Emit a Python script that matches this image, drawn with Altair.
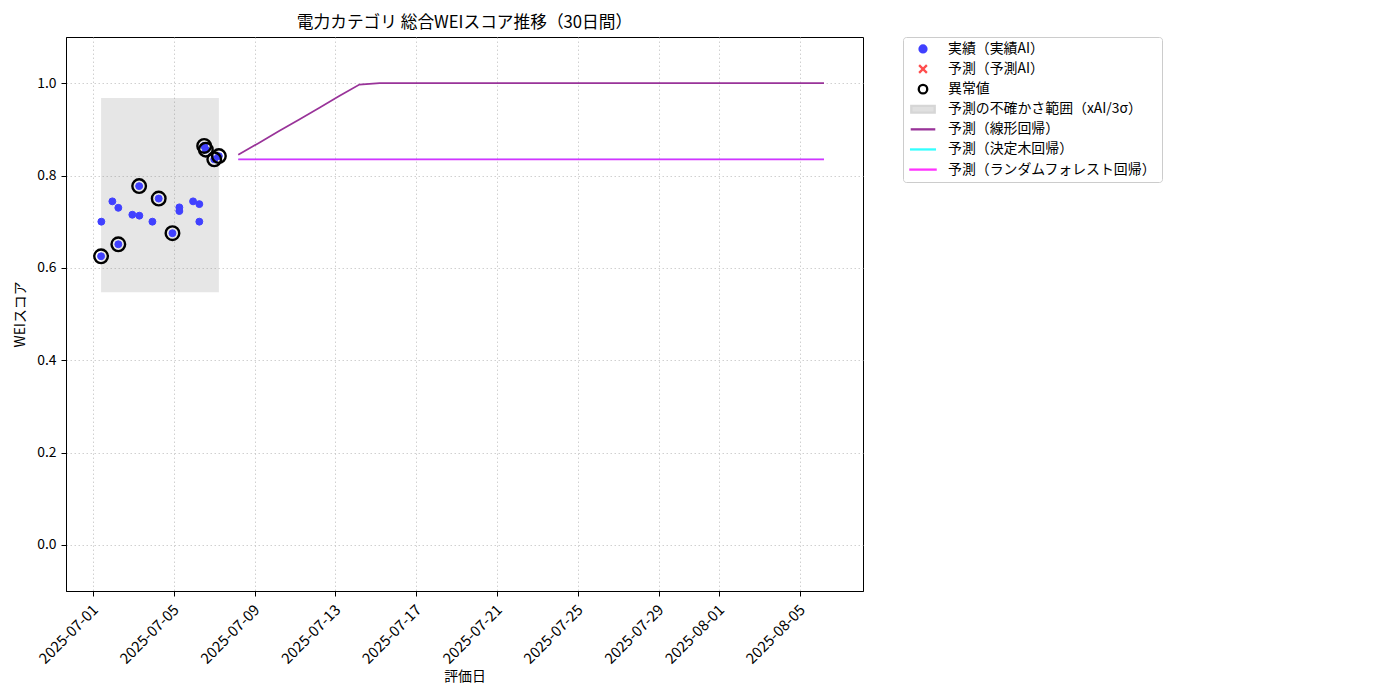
import altair as alt
import pandas as pd

FONT = "Noto Sans CJK JP"

# ---- data ----
actual_dates = [
    "2025-07-01T09:30", "2025-07-01T09:50", "2025-07-01T22:55", "2025-07-02T06:00", "2025-07-02T06:00",
    "2025-07-02T22:40", "2025-07-03T07:00", "2025-07-03T06:45", "2025-07-03T22:30", "2025-07-04T06:00",
    "2025-07-04T22:20", "2025-07-05T06:30", "2025-07-05T06:30", "2025-07-05T22:50", "2025-07-06T06:15",
    "2025-07-06T06:15", "2025-07-06T12:00", "2025-07-06T14:00", "2025-07-07T00:00", "2025-07-07T05:30",
]
actual_values = [0.625, 0.700, 0.744, 0.730, 0.651, 0.715, 0.713, 0.777, 0.700, 0.750,
                 0.675, 0.731, 0.723, 0.744, 0.738, 0.700, 0.864, 0.856, 0.835, 0.842]

outlier_dates = ["2025-07-01T09:30", "2025-07-02T06:00", "2025-07-03T06:45", "2025-07-04T06:00",
                 "2025-07-04T22:20", "2025-07-06T12:00", "2025-07-06T14:00", "2025-07-07T00:00",
                 "2025-07-07T05:30"]
outlier_values = [0.625, 0.651, 0.777, 0.750, 0.675, 0.864, 0.856, 0.835, 0.842]

forecast_dates = [
    "2025-07-08T04:30", "2025-07-09T04:30", "2025-07-10T04:30", "2025-07-11T04:30", "2025-07-12T04:30",
    "2025-07-13T04:30", "2025-07-14T04:30", "2025-07-15T04:30", "2025-07-16T04:30", "2025-07-17T04:30",
    "2025-07-18T04:30", "2025-07-19T04:30", "2025-07-20T04:30", "2025-07-21T04:30", "2025-07-22T04:30",
    "2025-07-23T04:30", "2025-07-24T04:30", "2025-07-25T04:30", "2025-07-26T04:30", "2025-07-27T04:30",
    "2025-07-28T04:30", "2025-07-29T04:30", "2025-07-30T04:30", "2025-07-31T04:30", "2025-08-01T04:30",
    "2025-08-02T04:30", "2025-08-03T04:30", "2025-08-04T04:30", "2025-08-05T04:30", "2025-08-06T04:30",
]
linear_values = [0.845, 0.870, 0.896, 0.921, 0.946, 0.972, 0.997, 1.000, 1.000, 1.000,
                 1.000, 1.000, 1.000, 1.000, 1.000, 1.000, 1.000, 1.000, 1.000, 1.000,
                 1.000, 1.000, 1.000, 1.000, 1.000, 1.000, 1.000, 1.000, 1.000, 1.000]
tree_values = [0.835, 0.835, 0.835, 0.835, 0.835, 0.835, 0.835, 0.835, 0.835, 0.835,
               0.835, 0.835, 0.835, 0.835, 0.835, 0.835, 0.835, 0.835, 0.835, 0.835,
               0.835, 0.835, 0.835, 0.835, 0.835, 0.835, 0.835, 0.835, 0.835, 0.835]
forest_values = [0.835, 0.835, 0.835, 0.835, 0.835, 0.835, 0.835, 0.835, 0.835, 0.835,
                 0.835, 0.835, 0.835, 0.835, 0.835, 0.835, 0.835, 0.835, 0.835, 0.835,
                 0.835, 0.835, 0.835, 0.835, 0.835, 0.835, 0.835, 0.835, 0.835, 0.835]

band_start = ["2025-07-01T09:30"]
band_end = ["2025-07-07T05:30"]
band_low = [0.547]
band_high = [0.968]

legend_labels = ["実績（実績AI）", "予測（予測AI）", "異常値", "予測の不確かさ範囲（xAI/3σ）",
                 "予測（線形回帰）", "予測（決定木回帰）", "予測（ランダムフォレスト回帰）"]

x_tick_dates = [(2025, 7, 1), (2025, 7, 5), (2025, 7, 9), (2025, 7, 13), (2025, 7, 17),
                (2025, 7, 21), (2025, 7, 25), (2025, 7, 29), (2025, 8, 1), (2025, 8, 5)]
y_ticks = [0.0, 0.2, 0.4, 0.6, 0.8, 1.0]

# ---- tables ----
df_actual = pd.DataFrame({"date": actual_dates, "value": actual_values, "series": legend_labels[0]})
df_out = pd.DataFrame({"date": outlier_dates, "value": outlier_values})
df_fc = pd.DataFrame({"date": forecast_dates, "linear": linear_values,
                      "tree": tree_values, "forest": forest_values})
df_band = pd.DataFrame({"start": band_start, "end": band_end, "low": band_low, "high": band_high})

# ---- scales / axes ----
xscale = alt.Scale(domain=[alt.DateTime(year=2025, month=6, date=29, hours=15, minutes=50),
                           alt.DateTime(year=2025, month=8, date=8, hours=2, minutes=50)], nice=False)
yscale = alt.Scale(domain=[-0.1, 1.1], nice=False, zero=False)

grid_kw = dict(grid=True, gridColor="#c4c4c4", gridDash=[1.5, 2.5], gridWidth=0.8,
               domainColor="black", tickColor="black", tickSize=5, labelColor="black",
               labelFont=FONT, titleFont=FONT, titleFontWeight="normal", titleColor="black",
               titleFontSize=13.9)

xaxis = alt.Axis(values=[alt.DateTime(year=y, month=m, date=d) for (y, m, d) in x_tick_dates],
                 format="%Y-%m-%d", labelAngle=315, labelAlign="right", labelBaseline="top",
                 labelFontSize=14.8, labelPadding=6, labelOffset=-3, titlePadding=3,
                 labelOverlap=False, labelFlush=False, **grid_kw)
yaxis = alt.Axis(values=y_ticks, format=".1f", labelFontSize=13.9, labelPadding=5, titlePadding=9,
                 **grid_kw)

X = lambda f: alt.X(f, type="temporal", scale=xscale, axis=xaxis, title="評価日")
Y = lambda f: alt.Y(f, type="quantitative", scale=yscale, axis=yaxis, title="WEIスコア")

leg = alt.Legend(title=None, orient="none", legendX=837, legendY=0,
                 labelFont=FONT, labelFontSize=13.9, labelColor="black", labelLimit=400,
                 strokeColor="#cccccc", fillColor="white", cornerRadius=3, padding=5,
                 gridAlign="all", rowPadding=2.1, symbolOffset=8, labelOffset=18,
                 symbolStrokeWidth=2.3)

fill_range = ["#4040ff", "transparent", "transparent", "#e0e0e0", "transparent", "transparent", "transparent"]
stroke_range = ["#4040ff", "#ff4d4d", "#000000", "#d6d6d6", "#993399", "#33ffff", "#ff33ff"]
LINE = "M-2.5,0H2.5"
shape_range = ["circle", "M-1,-1L1,1M-1,1L1,-1", "circle", "M-2.55,-0.75H2.55V0.75H-2.55Z", LINE, LINE, LINE]
size_range = [48, 121, 150, 121, 121, 121, 121]

band = alt.Chart(df_band).mark_rect(fill="#808080", opacity=0.2).encode(
    x=X("start"), x2="end:T", y=Y("low"), y2="high:Q")

points = alt.Chart(df_actual).mark_point(filled=True, strokeWidth=1, opacity=1).encode(
    x=X("date"), y=Y("value"),
    fill=alt.Fill("series:N", scale=alt.Scale(domain=legend_labels, range=fill_range), legend=leg),
    stroke=alt.Stroke("series:N", scale=alt.Scale(domain=legend_labels, range=stroke_range), legend=leg),
    shape=alt.Shape("series:N", scale=alt.Scale(domain=legend_labels, range=shape_range), legend=leg),
    size=alt.Size("series:N", scale=alt.Scale(domain=legend_labels, range=size_range), legend=leg),
)

outliers = alt.Chart(df_out).mark_point(filled=False, stroke="black", strokeWidth=2.4,
                                        size=185, shape="circle", opacity=1).encode(
    x=X("date"), y=Y("value"))

lin = alt.Chart(df_fc).mark_line(stroke="#993399", strokeWidth=1.7).encode(x=X("date"), y=Y("linear"))
tree = alt.Chart(df_fc).mark_line(stroke="#33ffff", strokeWidth=1.0).encode(x=X("date"), y=Y("tree"))
forest = alt.Chart(df_fc).mark_line(stroke="#d633ff", strokeWidth=1.8).encode(
    x=X("date"), y=Y("forest"))

chart = alt.layer(band, points, outliers, lin, tree, forest).properties(
    width=797, height=554,
    autosize=alt.AutoSizeParams(type="none"),
    padding={"left": 58, "top": 29, "right": 529, "bottom": 101},
    title=alt.TitleParams(text="電力カテゴリ 総合WEIスコア推移（30日間）", font=FONT, fontSize=16.7,
                          fontWeight="normal", color="black", anchor="middle", offset=5),
).configure(font=FONT).configure_view(stroke="black", strokeWidth=1)

chart.save("out.html", embed_options={"renderer": "svg", "actions": False})
